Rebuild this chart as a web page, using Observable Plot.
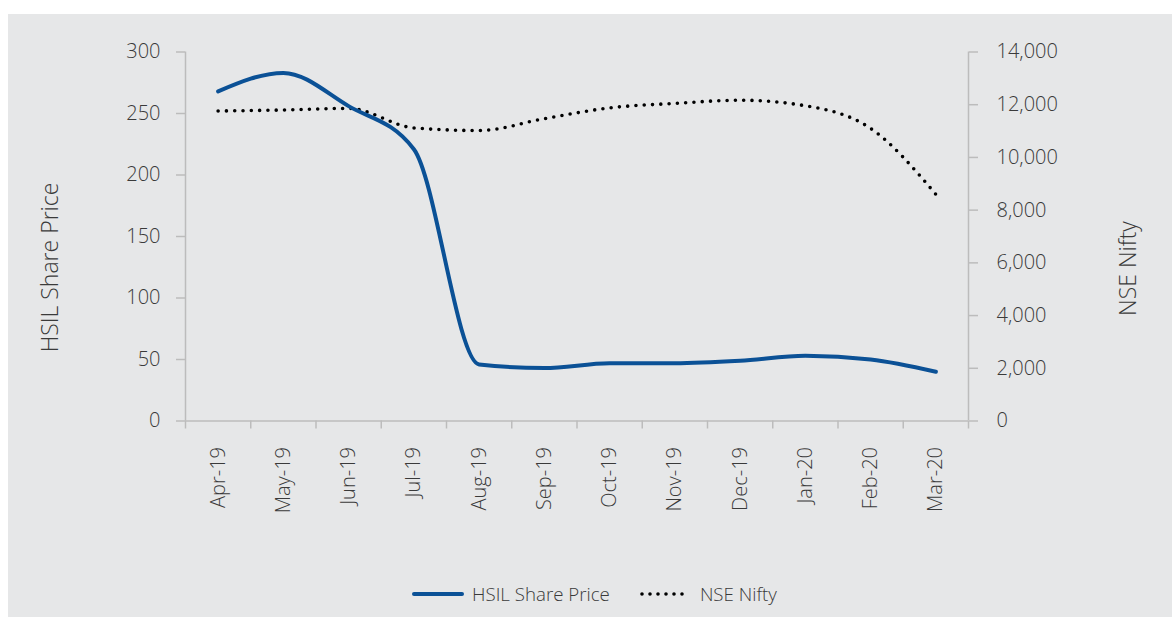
<!DOCTYPE html>
<html>
<head>
<meta charset="utf-8">
<script src="https://cdn.jsdelivr.net/npm/d3@7"></script>
<script src="https://cdn.jsdelivr.net/npm/@observablehq/plot@0.6"></script>
<style>
  html, body { margin: 0; padding: 0; background: #ffffff; }
  body { width: 1172px; height: 617px; position: relative; overflow: hidden; font-family: "Open Sans", sans-serif; font-weight: 300; }
  #panel { position: absolute; left: 8px; top: 14px; width: 1164px; height: 603px; background: #e6e7e8; }
  #chart { position: absolute; left: 0; top: 0; }
  #legend { position: absolute; left: 404px; top: 567px; display: flex; align-items: center; font-size: 18.7px; color: #3a3a3a; white-space: nowrap; }
  #legend .item { display: flex; align-items: center; }
  #legend svg { margin-right: 8px; }
</style>
</head>
<body>
<div id="panel">
  <div id="chart"></div>
  <div id="legend"></div>
</div>
<script>
const months = ["Apr-19","May-19","Jun-19","Jul-19","Aug-19","Sep-19","Oct-19","Nov-19","Dec-19","Jan-20","Feb-20","Mar-20"];
const hsilPrice = [268, 283, 256, 221, 46, 43, 47, 47, 49, 53, 50, 40];
const nseNifty = [11760, 11800, 11860, 11120, 11020, 11470, 11880, 12050, 12170, 11960, 11100, 8600];
const leftTicks = [0, 50, 100, 150, 200, 250, 300];
const rightTicks = [0, 2000, 4000, 6000, 8000, 10000, 12000, 14000];
const seriesNames = ["HSIL Share Price", "NSE Nifty"];

const leftMax = 300, rightMax = 14000;
const toLeft = v => v * leftMax / rightMax;

const hsilData = months.map((m, i) => ({i: i + 0.5, v: hsilPrice[i]}));
const niftyData = months.map((m, i) => ({i: i + 0.5, v: toLeft(nseNifty[i])}));

const blue = "#0b5196";
const axisColor = "#bcbcbc";
const textColor = "#3a3a3a";

const chart = Plot.plot({
  width: 1164,
  height: 540,
  marginLeft: 177,
  marginRight: 204,
  marginTop: 37.5,
  marginBottom: 133.5,
  style: {background: "transparent", fontFamily: "'Open Sans', sans-serif", fontSize: "20px", fontWeight: 300, color: textColor, overflow: "visible"},
  x: {type: "linear", domain: [0, months.length]},
  y: {domain: [0, leftMax]},
  marks: [
    Plot.ruleX([0], {stroke: axisColor, strokeWidth: 1.5}),
    Plot.ruleX([months.length], {stroke: axisColor, strokeWidth: 1.5}),
    Plot.ruleY([0], {stroke: axisColor, strokeWidth: 1.5}),
    Plot.axisY({anchor: "left", ticks: leftTicks, tickSize: 9, tickPadding: 16, stroke: axisColor, strokeWidth: 1.5, fill: textColor, label: null}),
    Plot.axisY({anchor: "right", ticks: rightTicks.map(toLeft), tickFormat: d => d3.format(",")(Math.round(d * rightMax / leftMax)), tickSize: 9, tickPadding: 19, stroke: axisColor, strokeWidth: 1.5, fill: textColor, label: null}),
    Plot.axisX({ticks: d3.range(months.length + 1), tickFormat: () => "", tickSize: 8, stroke: axisColor, strokeWidth: 1.5, label: null}),
    Plot.axisX({ticks: d3.range(months.length).map(i => i + 0.5), tickFormat: d => months[Math.floor(d)], tickSize: 0, tickPadding: 26, tickRotate: -90, fill: textColor, label: null}),
    Plot.text([seriesNames[0]], {frameAnchor: "left", textAnchor: "middle", rotate: -90, dx: -135, dy: 31, fontSize: 23, fill: textColor, fontWeight: 300}),
    Plot.text([seriesNames[1]], {frameAnchor: "right", textAnchor: "middle", rotate: -90, dx: 160, dy: 32, fontSize: 23, fill: textColor, fontWeight: 300}),
    Plot.line(niftyData, {x: "i", y: "v", stroke: "#000", strokeWidth: 3.6, strokeDasharray: "0 8.3", strokeLinecap: "round", curve: "monotone-x"}),
    Plot.line(hsilData, {x: "i", y: "v", stroke: blue, strokeWidth: 4, strokeLinecap: "round", strokeLinejoin: "round", curve: "monotone-x"})
  ]
});
document.getElementById("chart").appendChild(chart);

const legend = document.getElementById("legend");
function swatch(kind) {
  const ns = "http://www.w3.org/2000/svg";
  const s = document.createElementNS(ns, "svg");
  s.setAttribute("width", 52); s.setAttribute("height", 10);
  const l = document.createElementNS(ns, "line");
  l.setAttribute("x1", 2); l.setAttribute("x2", 50); l.setAttribute("y1", 5); l.setAttribute("y2", 5);
  if (kind === 0) { l.setAttribute("stroke", blue); l.setAttribute("stroke-width", 4); l.setAttribute("stroke-linecap", "round"); }
  else { l.setAttribute("stroke", "#000"); l.setAttribute("stroke-width", 3.6); l.setAttribute("stroke-dasharray", "0 8"); l.setAttribute("stroke-linecap", "round"); }
  s.appendChild(l);
  return s;
}
seriesNames.forEach((name, k) => {
  const item = document.createElement("div");
  item.className = "item";
  if (k > 0) item.style.marginLeft = "30px";
  item.appendChild(swatch(k));
  const t = document.createElement("span");
  t.textContent = name;
  item.appendChild(t);
  legend.appendChild(item);
});
</script>
</body>
</html>
